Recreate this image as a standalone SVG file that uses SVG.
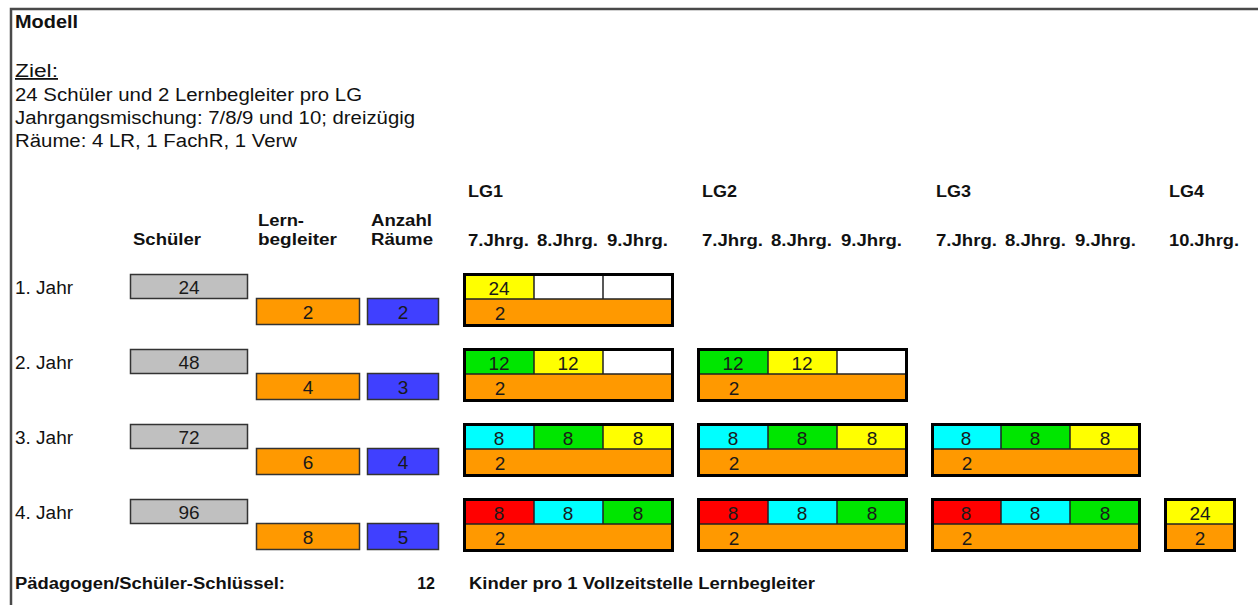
<svg xmlns="http://www.w3.org/2000/svg" width="1258" height="605" viewBox="0 0 1258 605">
<style>
.t{font-family:"Liberation Sans",Arial,Helvetica,sans-serif;fill:#111}
.r{font-size:18px}
.b{font-size:16px;font-weight:bold}
.n{font-family:"Liberation Sans",Arial,Helvetica,sans-serif;font-size:19px;text-anchor:middle;fill:#1a1a1a}
.sb{stroke:#333;stroke-width:1.5}
.gray{fill:#c0c0c0}.or{fill:#ff9900}.bl{fill:#4040ff}.ye{fill:#ffff00}.gr{fill:#00e600}.cy{fill:#00ffff}.rd{fill:#ff0000}.wh{fill:#ffffff}
.frame{fill:none;stroke:#000;stroke-width:3}
.div{fill:none;stroke:#222;stroke-width:1.5}
</style>
<rect width="1258" height="605" fill="#fff"/>
<path d="M11,605 V9 H1258" fill="none" stroke="#4a4a4a" stroke-width="2.5"/>

<g id="intro">
<text class="t b" x="15" y="28" style="font-size:18px" textLength="63" lengthAdjust="spacingAndGlyphs">Modell</text>
<text class="t r" x="15" y="77" text-decoration="underline" textLength="43" lengthAdjust="spacingAndGlyphs">Ziel:</text>
<text class="t r" x="15" y="101" textLength="347" lengthAdjust="spacingAndGlyphs">24 Schüler und 2 Lernbegleiter pro LG</text>
<text class="t r" x="15" y="124" textLength="400" lengthAdjust="spacingAndGlyphs">Jahrgangsmischung: 7/8/9 und 10; dreizügig</text>
<text class="t r" x="15" y="147" textLength="282" lengthAdjust="spacingAndGlyphs">Räume: 4 LR, 1 FachR, 1 Verw</text>
</g>

<g id="headers">
<text class="t b" x="133" y="245" textLength="68" lengthAdjust="spacingAndGlyphs">Schüler</text>
<text class="t b" x="258" y="226" textLength="46" lengthAdjust="spacingAndGlyphs">Lern-</text>
<text class="t b" x="258" y="245" textLength="79" lengthAdjust="spacingAndGlyphs">begleiter</text>
<text class="t b" x="371" y="226" textLength="61" lengthAdjust="spacingAndGlyphs">Anzahl</text>
<text class="t b" x="371" y="245" textLength="62" lengthAdjust="spacingAndGlyphs">Räume</text>
<text class="t b" x="468" y="197" textLength="35" lengthAdjust="spacingAndGlyphs">LG1</text>
<text class="t b" x="702" y="197" textLength="35" lengthAdjust="spacingAndGlyphs">LG2</text>
<text class="t b" x="936" y="197" textLength="35" lengthAdjust="spacingAndGlyphs">LG3</text>
<text class="t b" x="1169" y="197" textLength="35" lengthAdjust="spacingAndGlyphs">LG4</text>
<text class="t b" x="468" y="246" textLength="61" lengthAdjust="spacingAndGlyphs">7.Jhrg.</text>
<text class="t b" x="537" y="246" textLength="61" lengthAdjust="spacingAndGlyphs">8.Jhrg.</text>
<text class="t b" x="607" y="246" textLength="61" lengthAdjust="spacingAndGlyphs">9.Jhrg.</text>
<text class="t b" x="702" y="246" textLength="61" lengthAdjust="spacingAndGlyphs">7.Jhrg.</text>
<text class="t b" x="771" y="246" textLength="61" lengthAdjust="spacingAndGlyphs">8.Jhrg.</text>
<text class="t b" x="841" y="246" textLength="61" lengthAdjust="spacingAndGlyphs">9.Jhrg.</text>
<text class="t b" x="936" y="246" textLength="61" lengthAdjust="spacingAndGlyphs">7.Jhrg.</text>
<text class="t b" x="1005" y="246" textLength="61" lengthAdjust="spacingAndGlyphs">8.Jhrg.</text>
<text class="t b" x="1075" y="246" textLength="61" lengthAdjust="spacingAndGlyphs">9.Jhrg.</text>
<text class="t b" x="1169" y="246" textLength="70" lengthAdjust="spacingAndGlyphs">10.Jhrg.</text>
</g>

<g id="row1">
<text class="t r" x="15" y="294" textLength="58" lengthAdjust="spacingAndGlyphs">1. Jahr</text>
<rect class="gray sb" x="130.5" y="274.5" width="117" height="24"/><text class="n" x="189" y="293.5">24</text>
<rect class="or sb" x="256.5" y="298.5" width="103" height="26"/><text class="n" x="308" y="318.5">2</text>
<rect class="bl sb" x="367.5" y="298.5" width="71" height="26"/><text class="n" x="403" y="318.5">2</text>
</g>
<g id="row2">
<text class="t r" x="15" y="369" textLength="58" lengthAdjust="spacingAndGlyphs">2. Jahr</text>
<rect class="gray sb" x="130.5" y="349.5" width="117" height="24"/><text class="n" x="189" y="368.5">48</text>
<rect class="or sb" x="256.5" y="373.5" width="103" height="26"/><text class="n" x="308" y="393.5">4</text>
<rect class="bl sb" x="367.5" y="373.5" width="71" height="26"/><text class="n" x="403" y="393.5">3</text>
</g>
<g id="row3">
<text class="t r" x="15" y="444" textLength="58" lengthAdjust="spacingAndGlyphs">3. Jahr</text>
<rect class="gray sb" x="130.5" y="424.5" width="117" height="24"/><text class="n" x="189" y="443.5">72</text>
<rect class="or sb" x="256.5" y="448.5" width="103" height="26"/><text class="n" x="308" y="468.5">6</text>
<rect class="bl sb" x="367.5" y="448.5" width="71" height="26"/><text class="n" x="403" y="468.5">4</text>
</g>
<g id="row4">
<text class="t r" x="15" y="519" textLength="58" lengthAdjust="spacingAndGlyphs">4. Jahr</text>
<rect class="gray sb" x="130.5" y="499.5" width="117" height="24"/><text class="n" x="189" y="518.5">96</text>
<rect class="or sb" x="256.5" y="523.5" width="103" height="26"/><text class="n" x="308" y="543.5">8</text>
<rect class="bl sb" x="367.5" y="523.5" width="71" height="26"/><text class="n" x="403" y="543.5">5</text>
</g>

<g id="r1-lg1">
<rect class="ye" x="463" y="273" width="71" height="26"/><rect class="wh" x="534" y="273" width="69" height="26"/><rect class="wh" x="603" y="273" width="71" height="26"/>
<rect class="or" x="463" y="299" width="211" height="28"/>
<path class="div" d="M534,273V299M603,273V299M463,299H674"/>
<rect class="frame" x="464.5" y="274.5" width="208" height="51"/>
<text class="n" x="499" y="294.5">24</text><text class="n" x="500" y="319.5">2</text>
</g>

<g id="r2-lg1">
<rect class="gr" x="463" y="348" width="71" height="26"/><rect class="ye" x="534" y="348" width="69" height="26"/><rect class="wh" x="603" y="348" width="71" height="26"/>
<rect class="or" x="463" y="374" width="211" height="28"/>
<path class="div" d="M534,348V374M603,348V374M463,374H674"/>
<rect class="frame" x="464.5" y="349.5" width="208" height="51"/>
<text class="n" x="499" y="369.5">12</text><text class="n" x="568" y="369.5">12</text><text class="n" x="500" y="394.5">2</text>
</g>
<g id="r2-lg2">
<rect class="gr" x="697" y="348" width="71" height="26"/><rect class="ye" x="768" y="348" width="69" height="26"/><rect class="wh" x="837" y="348" width="71" height="26"/>
<rect class="or" x="697" y="374" width="211" height="28"/>
<path class="div" d="M768,348V374M837,348V374M697,374H908"/>
<rect class="frame" x="698.5" y="349.5" width="208" height="51"/>
<text class="n" x="733" y="369.5">12</text><text class="n" x="802" y="369.5">12</text><text class="n" x="734" y="394.5">2</text>
</g>

<g id="r3-lg1">
<rect class="cy" x="463" y="423" width="71" height="26"/><rect class="gr" x="534" y="423" width="69" height="26"/><rect class="ye" x="603" y="423" width="71" height="26"/>
<rect class="or" x="463" y="449" width="211" height="28"/>
<path class="div" d="M534,423V449M603,423V449M463,449H674"/>
<rect class="frame" x="464.5" y="424.5" width="208" height="51"/>
<text class="n" x="499" y="444.5">8</text><text class="n" x="568" y="444.5">8</text><text class="n" x="638" y="444.5">8</text><text class="n" x="500" y="469.5">2</text>
</g>
<g id="r3-lg2">
<rect class="cy" x="697" y="423" width="71" height="26"/><rect class="gr" x="768" y="423" width="69" height="26"/><rect class="ye" x="837" y="423" width="71" height="26"/>
<rect class="or" x="697" y="449" width="211" height="28"/>
<path class="div" d="M768,423V449M837,423V449M697,449H908"/>
<rect class="frame" x="698.5" y="424.5" width="208" height="51"/>
<text class="n" x="733" y="444.5">8</text><text class="n" x="802" y="444.5">8</text><text class="n" x="872" y="444.5">8</text><text class="n" x="734" y="469.5">2</text>
</g>
<g id="r3-lg3">
<rect class="cy" x="931" y="423" width="70" height="26"/><rect class="gr" x="1001" y="423" width="69" height="26"/><rect class="ye" x="1070" y="423" width="71" height="26"/>
<rect class="or" x="931" y="449" width="210" height="28"/>
<path class="div" d="M1001,423V449M1070,423V449M931,449H1141"/>
<rect class="frame" x="932.5" y="424.5" width="207" height="51"/>
<text class="n" x="966" y="444.5">8</text><text class="n" x="1035" y="444.5">8</text><text class="n" x="1105" y="444.5">8</text><text class="n" x="967" y="469.5">2</text>
</g>

<g id="r4-lg1">
<rect class="rd" x="463" y="498" width="71" height="26"/><rect class="cy" x="534" y="498" width="69" height="26"/><rect class="gr" x="603" y="498" width="71" height="26"/>
<rect class="or" x="463" y="524" width="211" height="28"/>
<path class="div" d="M534,498V524M603,498V524M463,524H674"/>
<rect class="frame" x="464.5" y="499.5" width="208" height="51"/>
<text class="n" x="499" y="519.5">8</text><text class="n" x="568" y="519.5">8</text><text class="n" x="638" y="519.5">8</text><text class="n" x="500" y="544.5">2</text>
</g>
<g id="r4-lg2">
<rect class="rd" x="697" y="498" width="71" height="26"/><rect class="cy" x="768" y="498" width="69" height="26"/><rect class="gr" x="837" y="498" width="71" height="26"/>
<rect class="or" x="697" y="524" width="211" height="28"/>
<path class="div" d="M768,498V524M837,498V524M697,524H908"/>
<rect class="frame" x="698.5" y="499.5" width="208" height="51"/>
<text class="n" x="733" y="519.5">8</text><text class="n" x="802" y="519.5">8</text><text class="n" x="872" y="519.5">8</text><text class="n" x="734" y="544.5">2</text>
</g>
<g id="r4-lg3">
<rect class="rd" x="931" y="498" width="70" height="26"/><rect class="cy" x="1001" y="498" width="69" height="26"/><rect class="gr" x="1070" y="498" width="71" height="26"/>
<rect class="or" x="931" y="524" width="210" height="28"/>
<path class="div" d="M1001,498V524M1070,498V524M931,524H1141"/>
<rect class="frame" x="932.5" y="499.5" width="207" height="51"/>
<text class="n" x="966" y="519.5">8</text><text class="n" x="1035" y="519.5">8</text><text class="n" x="1105" y="519.5">8</text><text class="n" x="967" y="544.5">2</text>
</g>
<g id="r4-lg4">
<rect class="ye" x="1164" y="498" width="72" height="26"/>
<rect class="or" x="1164" y="524" width="72" height="28"/>
<path class="div" d="M1164,524H1236"/>
<rect class="frame" x="1165.5" y="499.5" width="69" height="51"/>
<text class="n" x="1200" y="519.5">24</text><text class="n" x="1200" y="544.5">2</text>
</g>

<g id="footer">
<text class="t b" x="15" y="589" textLength="270" lengthAdjust="spacingAndGlyphs">Pädagogen/Schüler-Schlüssel:</text>
<text class="t b" x="435" y="589" text-anchor="end">12</text>
<text class="t b" x="469" y="589" textLength="346" lengthAdjust="spacingAndGlyphs">Kinder pro 1 Vollzeitstelle Lernbegleiter</text>
</g>
<g id="connectors"/>
</svg>
